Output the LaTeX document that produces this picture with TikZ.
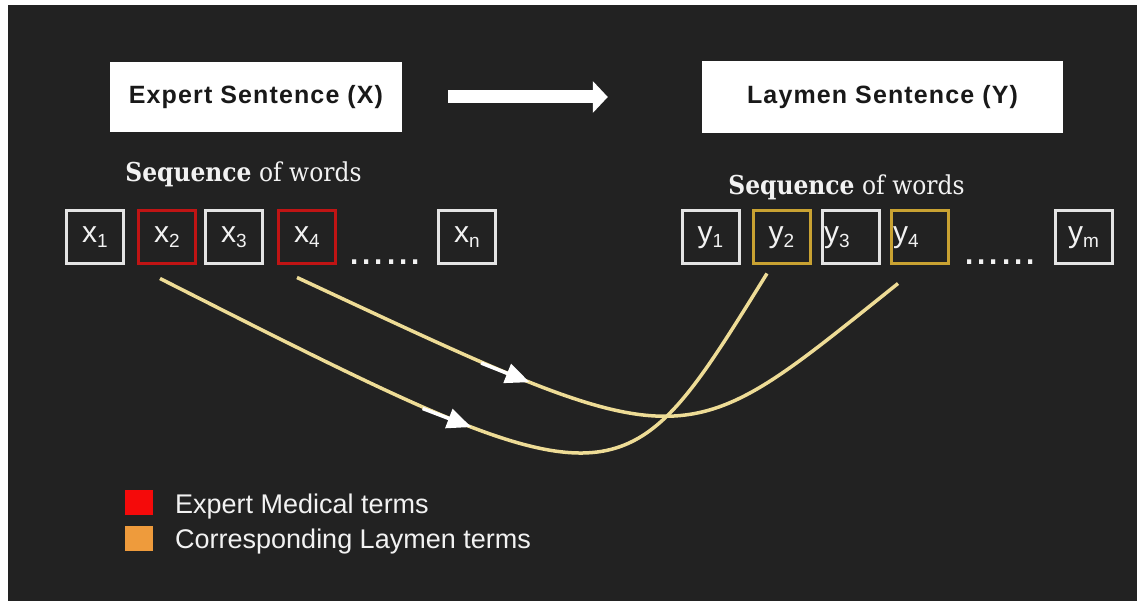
\documentclass[tikz,border=0pt]{standalone}
\usepackage{fontspec}
\setmainfont{Liberation Sans}
\newfontfamily\slab[FakeStretch=0.9]{DejaVu Serif}
\newfontfamily\boxfont[LetterSpace=4.5]{Liberation Sans}
\usetikzlibrary{arrows.meta,decorations.markings}
\definecolor{bg}{HTML}{222222}
\definecolor{boxwhite}{HTML}{E4E4E4}
\definecolor{boxred}{HTML}{C01414}
\definecolor{boxgold}{HTML}{C9A232}
\definecolor{curvecol}{HTML}{EEDC96}
\definecolor{legred}{HTML}{F50A0A}
\definecolor{legorange}{HTML}{EE9B3C}
\definecolor{txtwhite}{HTML}{F2F2F2}
\newcommand\wlab[2]{{\fontsize{30}{30}\selectfont #1}\raisebox{-5pt}{\fontsize{19}{19}\selectfont #2}}
\begin{document}
\begin{tikzpicture}[x=1pt,y=-1pt,
  word/.style={draw=boxwhite, line width=3pt, minimum width=57pt, minimum height=53pt, inner sep=0pt, text=txtwhite},
  redword/.style={word, draw=boxred},
  goldword/.style={word, draw=boxgold},
  leftlab/.style={text width=54pt, align=left, inner xsep=1.5pt},
  sentence/.style={fill=white, draw=none, inner sep=0pt, text=black!90, font=\boxfont\bfseries\fontsize{25}{25}\selectfont},
  seqtext/.style={anchor=base, text=txtwhite, inner sep=0pt, font=\slab\fontsize{26}{26}\selectfont},
  curve/.style={draw=curvecol, line width=3.5pt},
  legbox/.style={minimum width=28pt, minimum height=25pt, inner sep=0pt, draw=none},
  legtext/.style={anchor=base west, inner sep=0pt, text=txtwhite, font=\fontsize{27}{27}\selectfont},
  dotstext/.style={anchor=base, inner sep=0pt, text=txtwhite, font=\fontsize{44}{44}\selectfont}
]
\useasboundingbox (0,0) rectangle (1137,601);
\fill[white] (0,0) rectangle (1137,601);
\fill[bg] (8,5) rectangle (1137,601);

% sentence boxes
\node[sentence, minimum width=292pt, minimum height=70pt] (ex) at (256,97) {Expert Sentence (X)};
\node[sentence, minimum width=361pt, minimum height=72pt] (ly) at (882.5,97) {Laymen Sentence (Y)};
\draw[white, line width=13pt, -{Triangle[length=15pt,width=31pt]}] ([xshift=46pt]ex.east) -- ([xshift=-94pt]ly.west);

% sequence labels
\node[seqtext] (seqx) at (243.5,182) {\textbf{Sequence} of words};
\node[seqtext] (seqy) at (846.5,195) {\textbf{Sequence} of words};

% word boxes X
\node[word] (x1) at (95,237.5) {\wlab{x}{1}};
\node[redword] (x2) at (167,237.5) {\wlab{x}{2}};
\node[word] (x3) at (234,237.5) {\wlab{x}{3}};
\node[redword] (x4) at (307,237.5) {\wlab{x}{4}};
\node[dotstext] (dx) at (385,265) {......};
\node[word] (xn) at (467,237.5) {\wlab{x}{n}};

% word boxes Y
\node[word] (y1) at (710.5,237.5) {\wlab{y}{1}};
\node[goldword] (y2) at (781.5,237.5) {\wlab{y}{2}};
\node[word, leftlab] (y3) at (851,237.5) {\wlab{y}{3}};
\node[goldword, leftlab] (y4) at (920,237.5) {\wlab{y}{4}};
\node[dotstext] (dy) at (1000,265) {......};
\node[word] (ym) at (1083.5,237.5) {\wlab{y}{m}};

% curve end points
\coordinate (s1) at ([xshift=-7pt,yshift=-13pt]x2.south);
\coordinate (e1) at ([xshift=-14.5pt,yshift=-8pt]y2.south);
\coordinate (s2) at ([xshift=-10pt,yshift=-12pt]x4.south);
\coordinate (e2) at ([xshift=-22pt,yshift=-18pt]y4.south);

\draw[curve, postaction={decorate}, decoration={markings, mark=at position 345pt with {\draw[white, line width=3.5pt] (-52pt,0) -- (-18pt,0); \arrow[white]{Triangle[length=24pt,width=20pt]}}}]
  (s1) .. controls (625,514) and (620,510) .. (e1);
\draw[curve, postaction={decorate}, decoration={markings, mark=at position 255pt with {\draw[white, line width=3.5pt] (-52pt,0) -- (-18pt,0); \arrow[white]{Triangle[length=24pt,width=20pt]}}}]
  (s2) .. controls (695,463) and (677,460) .. (e2);

% legend
\node[legbox, fill=legred] (lr) at (139,502.5) {};
\node[legbox, fill=legorange] (lo) at (139,538.5) {};
\node[legtext] (lrt) at (175,513) {Expert Medical terms};
\node[legtext] (lot) at (175,548) {Corresponding Laymen terms};
\end{tikzpicture}
\end{document}
